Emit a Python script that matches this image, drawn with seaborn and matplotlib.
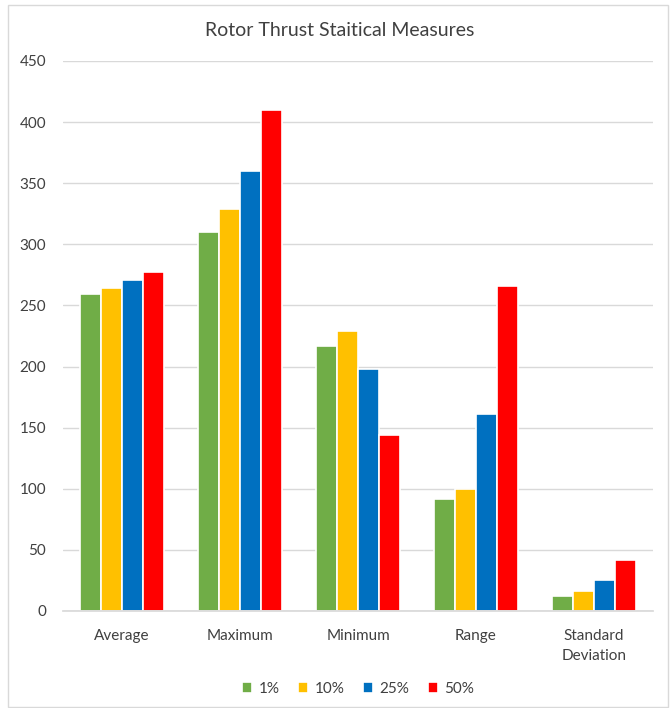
import matplotlib
matplotlib.use("Agg")
import matplotlib.pyplot as plt
from matplotlib.patches import Rectangle
import seaborn as sns
import pandas as pd

categories = ["Average", "Maximum", "Minimum", "Range", "Standard\nDeviation"]
series = ["1%", "10%", "25%", "50%"]
values_1 = [259, 310, 217, 92, 12]
values_10 = [264, 329, 229, 100, 16]
values_25 = [271, 360, 198, 161, 25]
values_50 = [277, 410, 144, 266, 42]
y_ticks = [0, 50, 100, 150, 200, 250, 300, 350, 400, 450]
colors = ["#70AD47", "#FFC000", "#0070C0", "#FF0000"]

rows = []
for name, vals in zip(series, [values_1, values_10, values_25, values_50]):
    for cat, v in zip(categories, vals):
        rows.append({"Measure": cat, "Level": name, "Value": v})
df = pd.DataFrame(rows)

sns.set_theme(style="white")
plt.rcParams["font.family"] = ["Lato", "DejaVu Sans"]

fig = plt.figure(figsize=(6.72, 7.08), dpi=100)
ax = fig.add_axes([63 / 672, 1 - 611 / 708, 590 / 672, 550 / 708])

sns.barplot(data=df, x="Measure", y="Value", hue="Level", order=categories,
            hue_order=series, palette=colors, width=0.72, ax=ax,
            edgecolor="white", linewidth=1.2, saturation=1, errorbar=None)

ax.set_ylim(0, 450)
ax.set_yticks(y_ticks)
ax.set_yticklabels([str(t) for t in y_ticks], fontsize=11, color="#404040")
ax.tick_params(axis="x", labelsize=11, labelcolor="#404040", length=0, pad=13)
ax.tick_params(axis="y", length=0, pad=12)
for lbl in ax.get_xticklabels():
    lbl.set_linespacing(1.5)
ax.yaxis.grid(True, color="#D9D9D9", linewidth=1)
ax.set_axisbelow(True)
for s in ["top", "right", "left"]:
    ax.spines[s].set_visible(False)
ax.spines["bottom"].set_color("#D9D9D9")
ax.set_xlabel("")
ax.set_ylabel("")

fig.text(340 / 672, 1 - 30 / 708, "Rotor Thrust Staitical Measures",
         ha="center", va="center", fontsize=14, color="#404040")

leg = ax.legend(loc="center", bbox_to_anchor=(0.5, -0.142), ncol=4,
                frameon=False, fontsize=11, handlelength=0.7, handleheight=0.7,
                handletextpad=0.4, columnspacing=1.2)
for t in leg.get_texts():
    t.set_color("#404040")

fig.patches.append(Rectangle((8 / 672, 0.002), 660 / 672, 1 - 5 / 708 - 0.002,
                             transform=fig.transFigure, fill=False,
                             edgecolor="#D9D9D9", linewidth=1))

fig.savefig("out.png", dpi=100)
